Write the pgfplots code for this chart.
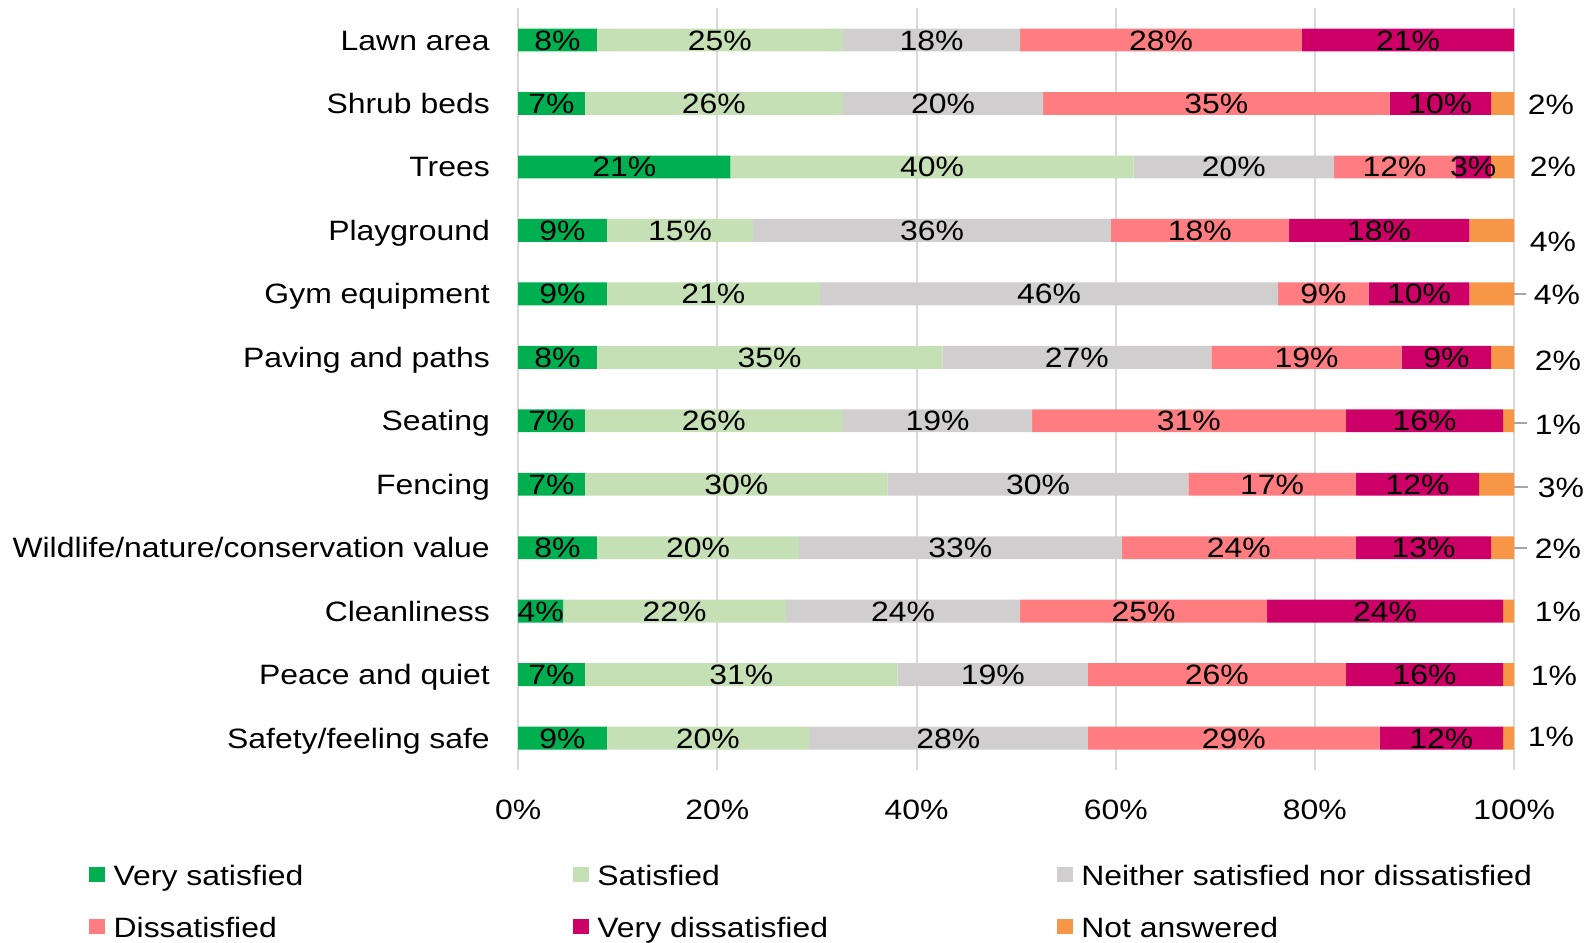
\documentclass[border=0pt]{standalone}
\usepackage{fontspec}
\setmainfont{Liberation Sans}[FakeStretch=1.14]
\usepackage{pgfplots}
\usepackage{pgfplotstable}
\pgfplotsset{compat=1.18}
\definecolor{cVS}{HTML}{00B050}
\definecolor{cS}{HTML}{C5E0B4}
\definecolor{cN}{HTML}{D0CECE}
\definecolor{cD}{HTML}{FF7C80}
\definecolor{cVD}{HTML}{CC0066}
\definecolor{cNA}{HTML}{F79646}
\definecolor{gridgray}{HTML}{D9D9D9}
\definecolor{leadgray}{HTML}{A6A6A6}
\pgfplotsset{
  sqlegend/.style={legend image code/.code={\fill[##1] (0pt,-3.0pt) rectangle (8pt,4.5pt);}},
  lab/.style={draw=none, mark=none, nodes near coords={\pgfplotspointmeta\%}, point meta=explicit symbolic,
    every node near coord/.append style={anchor=base, yshift=-5pt, inner sep=0pt, text=black}},
}
\pgfplotstableread{
y vs s n d vd na lvs ls ln ld lvd
0 7.9 24.7 17.8 28.3 21.3 0 8 25 18 28 21
1 6.7 25.9 20.1 34.8 10.2 2.3 7 26 20 35 10
2 21.3 40.5 20.1 12.2 3.6 2.3 21 40 20 12 3
3 8.9 14.7 35.9 17.9 18.1 4.5 9 15 36 18 18
4 8.9 21.4 46.0 9.1 10.1 4.5 9 21 46 9 10
5 7.9 34.7 27.0 19.1 9.0 2.3 8 35 27 19 9
6 6.7 25.9 19.0 31.5 15.8 1.1 7 26 19 31 16
7 6.7 30.4 30.2 16.8 12.4 3.5 7 30 30 17 12
8 7.9 20.3 32.4 23.5 13.6 2.3 8 20 33 24 13
9 4.5 22.4 23.5 24.8 23.7 1.1 4 22 24 25 24
10 6.7 31.4 19.1 25.9 15.8 1.1 7 31 19 26 16
11 8.9 20.3 28.0 29.3 12.4 1.1 9 20 28 29 12
}\bardata
\pgfplotstableread{
x y l
103.7 1.02 2
103.9 1.99 2
103.9 3.17 4
104.3 4.01 4
104.4 5.05 2
104.4 6.06 1
104.7 7.05 3
104.4 8.02 2
104.4 9.00 1
104.0 10.01 1
103.7 10.97 1
}\nadata
\begin{document}
\fontsize{14}{17}\selectfont
\begin{tikzpicture}
\useasboundingbox (-259.1pt,-86.4pt) rectangle (534.4pt,384.9pt);
\begin{axis}[
  at={(0,0)}, anchor=south west,
  scale only axis, width=497.95pt, height=380.75pt,
  xbar stacked, bar width=0.36,
  xmin=0, xmax=100, ymin=-0.5, ymax=11.5, y dir=reverse,
  xtick={0,20,40,60,80,100},
  xticklabels={0\%,20\%,40\%,60\%,80\%,100\%},
  ytick={0,1,2,3,4,5,6,7,8,9,10,11},
  yticklabels={Lawn area,Shrub beds,Trees,Playground,Gym equipment,Paving and paths,Seating,Fencing,Wildlife/nature/conservation value,Cleanliness,Peace and quiet,Safety/feeling safe},
  xmajorgrids, grid style={draw=gridgray, line width=1pt},
  axis line style={draw=none}, major tick length=0pt,
  xticklabel style={anchor=base, inner sep=0pt, yshift=-25pt},
  yticklabel style={anchor=base east, inner sep=0pt, xshift=-14pt, yshift=-5pt},
  legend columns=3,
  legend style={at={(-0.4307,-0.1212)}, anchor=north west, draw=none, fill=none,
    inner sep=0pt, outer sep=0pt, row sep=11.75pt, nodes={inner sep=0pt},
    /tikz/every odd column/.append style={column sep=4.2pt},
    /tikz/every even column/.append style={column sep=0pt}},
]
\addplot[fill=cVS, draw=none, sqlegend] table[x=vs, y=y] {\bardata};
\addlegendentry{\makebox[229.7pt][l]{\strut Very satisfied}}
\addplot[fill=cS, draw=none, sqlegend] table[x=s, y=y] {\bardata};
\addlegendentry{\makebox[229.7pt][l]{\strut Satisfied}}
\addplot[fill=cN, draw=none, sqlegend] table[x=n, y=y] {\bardata};
\addlegendentry{\makebox[229.7pt][l]{\strut Neither satisfied nor dissatisfied}}
\addplot[fill=cD, draw=none, sqlegend] table[x=d, y=y] {\bardata};
\addlegendentry{\makebox[229.7pt][l]{\strut Dissatisfied}}
\addplot[fill=cVD, draw=none, sqlegend] table[x=vd, y=y] {\bardata};
\addlegendentry{\makebox[229.7pt][l]{\strut Very dissatisfied}}
\addplot[fill=cNA, draw=none, sqlegend] table[x=na, y=y] {\bardata};
\addlegendentry{\makebox[229.7pt][l]{\strut Not answered}}
\end{axis}
\begin{axis}[
  at={(0,0)}, anchor=south west,
  scale only axis, width=497.95pt, height=380.75pt,
  xmin=0, xmax=100, ymin=-0.5, ymax=11.5, y dir=reverse,
  hide axis, clip=false,
]
\addplot[lab] table[x expr=\thisrow{vs}/2, y=y, meta=lvs] {\bardata};
\addplot[lab] table[x expr=\thisrow{vs}+\thisrow{s}/2, y=y, meta=ls] {\bardata};
\addplot[lab] table[x expr=\thisrow{vs}+\thisrow{s}+\thisrow{n}/2, y=y, meta=ln] {\bardata};
\addplot[lab] table[x expr=\thisrow{vs}+\thisrow{s}+\thisrow{n}+\thisrow{d}/2, y=y, meta=ld] {\bardata};
\addplot[lab] table[x expr=\thisrow{vs}+\thisrow{s}+\thisrow{n}+\thisrow{d}+\thisrow{vd}/2, y=y, meta=lvd] {\bardata};
\addplot[lab] table[x=x, y=y, meta=l] {\nadata};
\addplot[leadgray, line width=1pt, mark=none] coordinates {(100,4.0) (101.2,4.0)};
\addplot[leadgray, line width=1pt, mark=none] coordinates {(100,6.04) (101.3,6.04)};
\addplot[leadgray, line width=1pt, mark=none] coordinates {(100,7.04) (101.4,7.04)};
\addplot[leadgray, line width=1pt, mark=none] coordinates {(100,8.0) (101.3,8.0)};
\end{axis}
\end{tikzpicture}
\end{document}
